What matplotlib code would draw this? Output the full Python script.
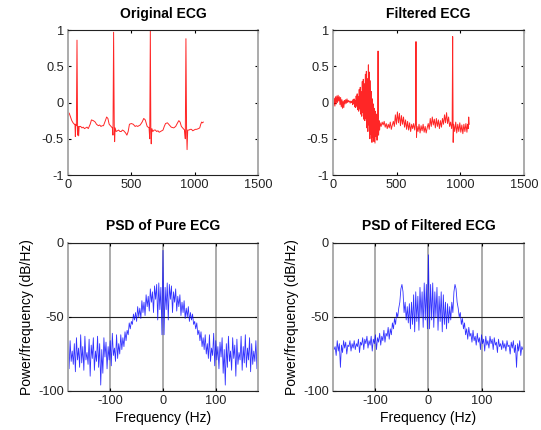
import matplotlib
matplotlib.use('Agg')
import matplotlib.pyplot as plt
import numpy as np

plt.rcParams['font.family'] = ['Liberation Sans', 'DejaVu Sans']
plt.rcParams['axes.unicode_minus'] = False

# ---- data ----
# original ECG (sample index, amplitude)
orig_t = [0, 10, 20, 30, 40, 50, 55, 58, 62, 66, 71, 76, 80, 84, 88, 100, 110, 120, 130,
          140, 150, 160, 175, 185, 200, 215, 225, 240, 250, 260, 270, 280, 295, 305, 315,
          325, 340, 350, 355, 360, 365, 368, 372, 380, 390, 400, 410, 420, 430, 440, 455,
          465, 475, 485, 500, 515, 530, 540, 550, 570, 585, 598, 610, 625, 640, 645, 650,
          654, 657, 662, 670, 680, 690, 700, 710, 720, 730, 750, 760, 770, 785, 800, 815,
          835, 850, 865, 875, 885, 895, 910, 920, 926, 931, 936, 940, 945, 955, 965, 975,
          985, 995, 1005, 1015, 1030, 1040, 1048, 1055, 1062, 1068]
orig_v = [-0.13, -0.15, -0.2, -0.25, -0.28, -0.3, -0.3, -0.47, -0.3, -0.32, 0.86, -0.45,
          -0.33, -0.46, -0.33, -0.33, -0.35, -0.34, -0.36, -0.35, -0.34, -0.36, -0.3, -0.24,
          -0.25, -0.27, -0.3, -0.32, -0.31, -0.33, -0.32, -0.32, -0.25, -0.2, -0.22, -0.3,
          -0.33, -0.35, -0.45, 0.97, -0.3, -0.54, -0.35, -0.4, -0.39, -0.38, -0.4, -0.4,
          -0.38, -0.39, -0.42, -0.45, -0.4, -0.3, -0.29, -0.3, -0.33, -0.32, -0.33, -0.31,
          -0.27, -0.22, -0.24, -0.33, -0.35, -0.5, 1.0, -0.4, -0.57, -0.36, -0.4, -0.38,
          -0.38, -0.4, -0.39, -0.41, -0.4, -0.38, -0.33, -0.29, -0.28, -0.31, -0.34, -0.35,
          -0.33, -0.28, -0.25, -0.27, -0.33, -0.36, -0.38, -0.5, 0.88, -0.35, -0.65, -0.38,
          -0.38, -0.37, -0.37, -0.39, -0.38, -0.37, -0.37, -0.36, -0.35, -0.3, -0.27, -0.28,
          -0.27]

# filtered ECG
filt_t = [0, 5, 10, 15, 20, 25, 30, 35, 40, 45, 50, 55, 60, 65, 70, 75, 80, 85, 90, 95,
          100, 105, 110, 115, 120, 125, 130, 135, 140, 145,
          150, 154, 158, 162, 166, 170, 174, 178, 182, 186, 190, 194, 198, 202, 206, 210,
          214, 218, 222, 226, 230, 234, 238, 242, 246, 250, 254, 258, 262, 266, 270, 274,
          278, 282, 286, 290, 294, 298, 302, 306, 310, 314, 318, 322, 326, 330, 334, 338,
          342, 346, 350, 354, 358, 362, 366,
          370, 378, 386, 394, 402, 410, 418, 426, 434, 442, 450, 458, 466, 474, 482, 490,
          498, 506, 514, 522, 530, 538, 546, 554, 562, 570, 578, 586, 594, 602, 610, 618,
          626, 634, 642, 648, 652, 656, 660, 668, 676, 684, 692, 700, 708, 716, 724, 732,
          740, 748, 756, 764, 772, 780, 788, 796, 804, 812, 820, 828, 836, 844, 852, 860,
          868, 876, 884, 892, 900, 908, 916, 924, 932, 936, 940, 944, 948, 956, 964, 972,
          980, 988, 996, 1004, 1012, 1020, 1028, 1036, 1044, 1052, 1058, 1062, 1066, 1070]
filt_v = [0.05, -0.04, 0.06, -0.05, 0.08, -0.02, 0.09, 0.0, 0.1, 0.02, 0.08, -0.03, 0.07,
          -0.06, 0.04, -0.08, 0.02, -0.07, 0.03, -0.02, 0.04, -0.01, 0.05, 0.0, 0.03, 0.01,
          0.02, -0.01, 0.02, 0.0,
          0.02, -0.03, 0.04, -0.02, 0.05, -0.06, 0.03, -0.07, 0.09, -0.05, 0.12, -0.1, 0.08,
          -0.12, 0.18, -0.09, 0.21, -0.16, 0.15, -0.19, 0.29, -0.14, 0.32, -0.23, 0.26,
          -0.25, 0.39, -0.22, 0.43, -0.35, 0.33, -0.4, 0.52, -0.31, 0.42, -0.5, 0.3, -0.44,
          0.15, -0.55, 0.05, -0.48, -0.02, -0.54, -0.08, -0.56, -0.12, -0.47, -0.16, -0.52,
          -0.22, 0.71, -0.45, -0.25, -0.38,
          -0.28, -0.33, -0.27, -0.31, -0.26, -0.34, -0.29, -0.36, -0.3, -0.35, -0.27, -0.37,
          -0.31, -0.26, -0.33, -0.17, -0.3, -0.13, -0.28, -0.15, -0.32, -0.18, -0.3, -0.2,
          -0.34, -0.24, -0.37, -0.26, -0.38, -0.28, -0.4, -0.3, -0.36, -0.29, -0.38, -0.3,
          0.84, -0.48, -0.33, -0.4, -0.3, -0.42, -0.32, -0.39, -0.3, -0.41, -0.33, -0.42,
          -0.35, -0.29, -0.37, -0.22, -0.33, -0.2, -0.31, -0.23, -0.35, -0.22, -0.33, -0.24,
          -0.36, -0.25, -0.34, -0.22, -0.3, -0.17, -0.28, -0.14, -0.29, -0.2, -0.33, -0.27,
          -0.36, -0.3, 0.91, -0.55, -0.3, -0.4, -0.27, -0.42, -0.3, -0.4, -0.28, -0.41,
          -0.31, -0.43, -0.3, -0.4, -0.29, -0.41, -0.3, -0.36, -0.2, -0.3]

# PSD, one half 0..180 Hz in 2 Hz steps (spectrum of a real signal is symmetric)
psd_freq_half = np.arange(0, 181, 2)
psd_pure_half = [-5, -62, -30, -45, -27, -52, -28, -38, -29, -47, -33, -40, -31, -46, -36,
                 -43, -35, -49, -40, -47, -39, -51, -44, -50, -43, -53, -47, -52, -48, -55,
                 -53, -58, -54, -62, -59, -66, -60, -70, -64, -72, -62, -75, -68, -78, -62,
                 -80, -71, -76, -61, -83, -66, -79, -70, -85, -67, -77, -64, -88, -72, -96,
                 -68, -84, -63, -80, -73, -86, -64, -78, -69, -90, -65, -82, -74, -79, -63,
                 -86, -70, -81, -62, -84, -71, -79, -64, -87, -68, -82, -73, -80, -66, -85,
                 -67]
psd_filt_half = [-8, -58, -28, -52, -27, -57, -33, -50, -30, -59, -36, -53, -33, -60, -35,
                 -55, -40, -58, -41, -54, -43, -52, -40, -47, -33, -28, -31, -40, -44, -50,
                 -47, -55, -51, -58, -54, -62, -58, -65, -57, -63, -61, -67, -59, -66, -63,
                 -69, -61, -67, -64, -72, -62, -68, -65, -73, -63, -69, -66, -71, -63, -68,
                 -65, -72, -64, -69, -67, -74, -65, -70, -68, -72, -66, -71, -68, -73, -66,
                 -70, -69, -75, -67, -71, -66, -74, -69, -84, -68, -73, -66, -76, -70, -72,
                 -70]

ecg_yticks = [-1, -0.5, 0, 0.5, 1]
ecg_yticklabels = ['-1', '-0.5', '0', '0.5', '1']
ecg_xticks = [0, 500, 1000, 1500]
psd_xticks = [-100, 0, 100]
psd_yticks = [-100, -50, 0]

psd_freq = np.concatenate([-psd_freq_half[:0:-1], psd_freq_half])
psd_pure = np.concatenate([psd_pure_half[:0:-1], psd_pure_half])
psd_filt = np.concatenate([psd_filt_half[:0:-1], psd_filt_half])

FS = 9.2
GRAY = '#ababab'

fig = plt.figure(figsize=(5.41, 4.30), dpi=100)
ax_o = fig.add_axes([0.1257, 0.593, 0.3512, 0.3372])
ax_f = fig.add_axes([0.6155, 0.593, 0.353, 0.3372])
ax_p = fig.add_axes([0.1257, 0.0907, 0.3512, 0.3442])
ax_q = fig.add_axes([0.6155, 0.0907, 0.353, 0.3442])


def style(ax):
    ax.tick_params(direction='in', length=2.5, width=0.8, top=True, right=True,
                   labelsize=FS, pad=3, labelcolor='#222222')
    for s in ('top', 'bottom'):
        ax.spines[s].set_color('#222222')
        ax.spines[s].set_linewidth(0.8)
    for s in ('left', 'right'):
        ax.spines[s].set_color(GRAY)
        ax.spines[s].set_linewidth(1.4)


for ax, t, v, title in [(ax_o, orig_t, orig_v, 'Original ECG'),
                        (ax_f, filt_t, filt_v, 'Filtered ECG')]:
    ax.plot(t, v, color='red', lw=0.7, alpha=0.85)
    ax.set_xlim(0, 1500)
    ax.set_ylim(-1, 1)
    ax.set_xticks(ecg_xticks)
    ax.set_yticks(ecg_yticks)
    ax.set_yticklabels(ecg_yticklabels)
    ax.set_title(title, fontsize=10, fontweight='bold', pad=9)
    style(ax)

for ax, p, title in [(ax_p, psd_pure, 'PSD of Pure ECG'),
                     (ax_q, psd_filt, 'PSD of Filtered ECG')]:
    ax.plot(psd_freq, p, color='blue', lw=0.6, alpha=0.8)
    ax.set_xlim(-180, 180)
    ax.set_ylim(-100, 0)
    ax.set_xticks(psd_xticks)
    ax.set_yticks(psd_yticks)
    ax.xaxis.grid(True, color=GRAY, lw=1.4)
    ax.yaxis.grid(True, color='#222222', lw=0.8)
    ax.set_axisbelow(True)
    ax.set_title(title, fontsize=10, fontweight='bold', pad=9)
    ax.set_xlabel('Frequency (Hz)', fontsize=10, labelpad=3)
    ax.set_ylabel('Power/frequency (dB/Hz)', fontsize=10, labelpad=3)
    style(ax)

fig.savefig('out.png', dpi=100)
